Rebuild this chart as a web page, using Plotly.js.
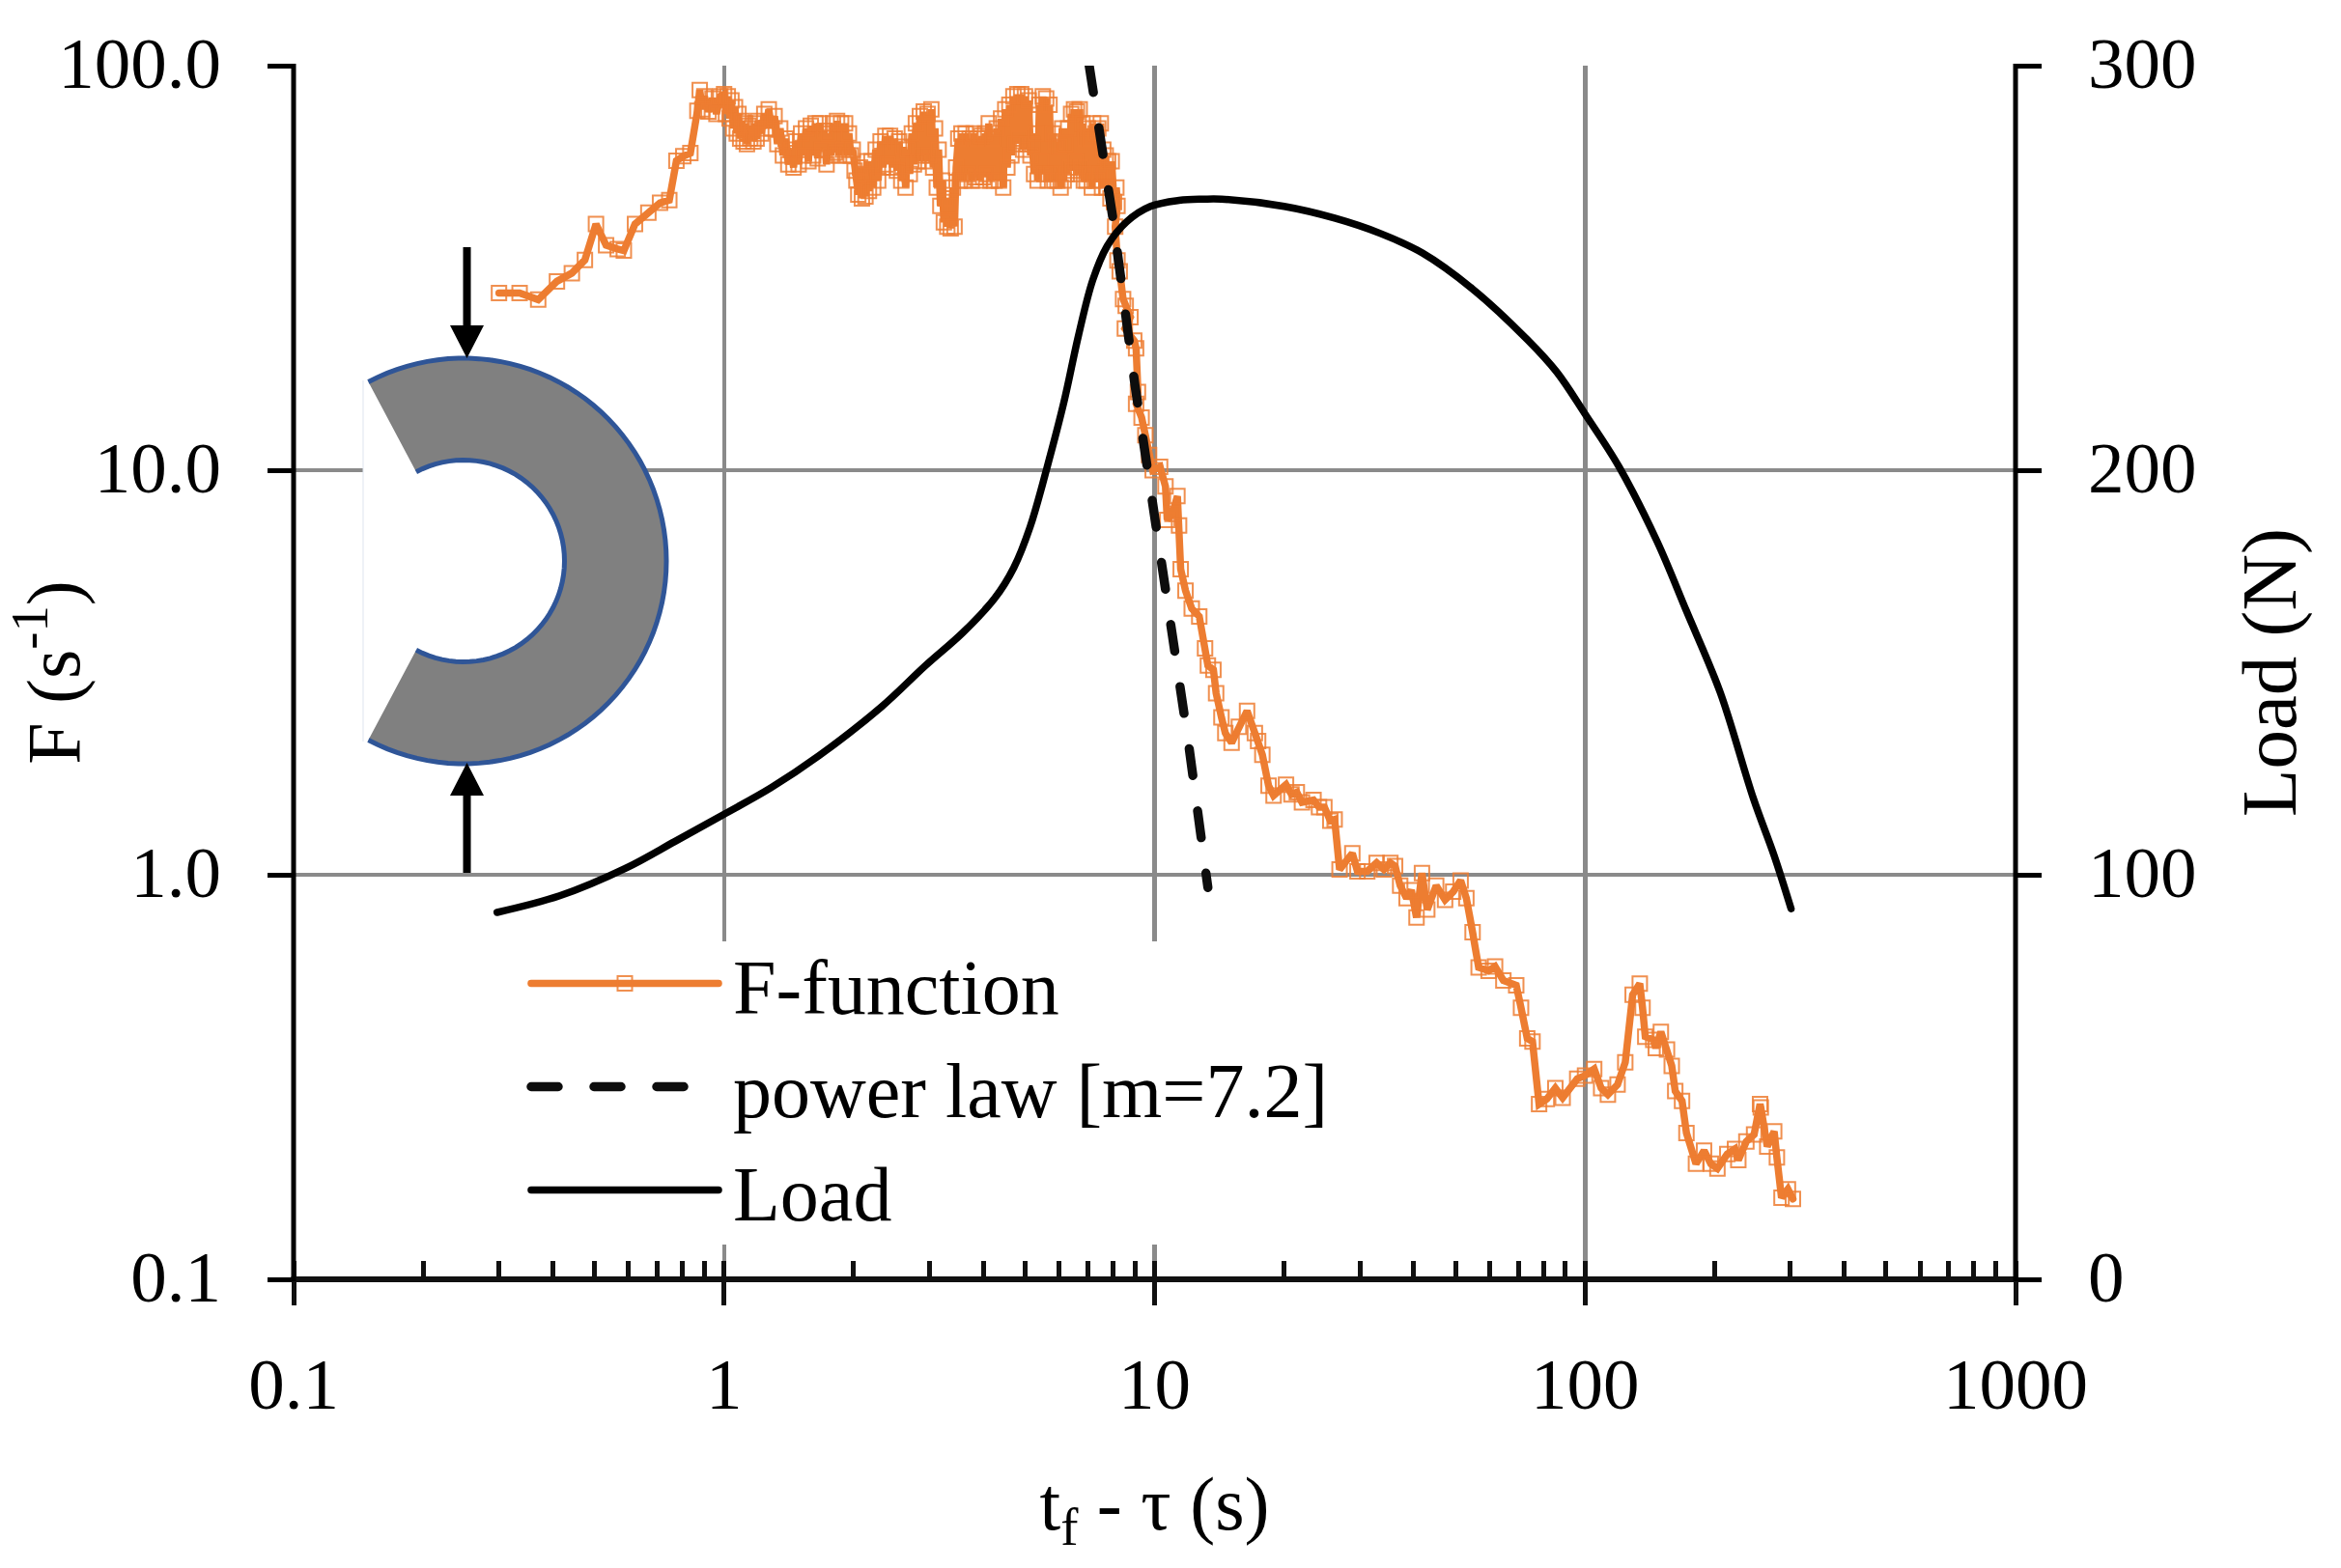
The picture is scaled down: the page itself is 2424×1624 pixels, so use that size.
<!DOCTYPE html>
<html>
<head>
<meta charset="utf-8">
<script src="https://cdn.plot.ly/plotly-3.0.1.min.js"></script>
<style>html,body{margin:0;padding:0;background:#fff}#chart{width:2424px;height:1624px}</style>
</head>
<body>
<div id="chart"></div>
<script>
const fPoints = [[0.30,27.4],[0.335,27.4],[0.37,26.4],[0.409,29.3],[0.443,30.7],[0.475,33.1],[0.504,40.6],[0.532,36],[0.566,35.2],[0.585,34.9],[0.621,40.6],[0.667,43.3],[0.71,45.8],[0.746,46.5],[0.775,58.2],[0.804,59.7],[0.835,60.8],[0.867,77.3],[0.878,87],
[0.89,78],[0.90,84],[0.92,77],[0.94,83],[0.96,76],[0.98,84],
[1.00,85],[1.01,76],[1.02,84],[1.03,74],[1.04,82],[1.05,70],[1.06,79],[1.07,68],[1.08,76],[1.09,66],[1.10,73],[1.11,65],[1.12,72],[1.13,64],[1.14,71],[1.15,66],[1.16,70],[1.17,65],[1.18,72],[1.19,66],[1.20,73],[1.22,68],[1.24,76],[1.25,70],[1.27,78],[1.29,70],[1.31,75],[1.33,64],[1.35,70],[1.37,60],[1.39,66],[1.41,57],[1.43,62],[1.45,56],[1.47,65],[1.49,57],[1.51,68],[1.53,60],[1.55,70],[1.57,58],[1.59,71],[1.61,60],[1.63,72],[1.65,59],[1.67,72],[1.69,62],[1.71,69],[1.73,57],[1.75,68],[1.77,60],[1.79,72],[1.81,61],[1.83,73],[1.85,60],[1.87,72],[1.89,62],[1.91,72],[1.93,60],[1.95,68],[1.97,60],[1.99,62],
[2.01,55],[2.03,52],[2.05,48],[2.07,56],[2.09,47],[2.11,54],[2.13,47.5],[2.15,58],[2.17,49],[2.20,58],[2.22,50],[2.25,62],[2.28,52],[2.31,65],[2.34,56],[2.37,67],[2.40,57],[2.43,67],[2.46,56],[2.49,66],[2.52,55],[2.55,65],[2.58,52],[2.61,63],[2.64,50],[2.67,62],[2.70,54],[2.73,68],[2.76,57],[2.79,72],[2.82,58],[2.85,75],[2.88,60],[2.91,77],[2.94,58],[2.97,76],
[3.0,60],[3.03,78],[3.06,56],[3.09,70],[3.12,50],[3.15,62],[3.18,45],[3.21,52],[3.24,41],[3.27,47],[3.30,40],[3.33,45],[3.36,39.6],[3.40,50],[3.43,40],[3.46,56],[3.50,66],[3.53,52],[3.56,68],[3.60,52],[3.64,68],[3.68,54],[3.72,66],[3.76,52],[3.80,68],[3.84,53],[3.88,66],[3.92,52],[3.96,67],
[4.0,53],[4.04,68],[4.08,54],[4.12,72],[4.16,52],[4.20,66],[4.25,52],[4.30,70],[4.35,52],[4.40,74],[4.45,50],[4.50,78],[4.55,56],[4.60,80],[4.65,60],[4.70,84],[4.75,64],[4.80,85],[4.85,66],[4.90,85],[4.95,62],
[5.0,84],[5.05,64],[5.10,82],[5.15,60],[5.20,64],[5.25,54],[5.30,68],[5.35,52],[5.40,80],[5.45,58],[5.50,84],[5.55,54],[5.60,83],[5.65,52],[5.70,80],[5.75,54],[5.80,68],[5.85,52],[5.90,65],[5.95,52],
[6.0,63],[6.05,50],[6.1,70],[6.15,52],[6.2,64],[6.25,54],[6.3,70],[6.35,56],[6.4,76],[6.45,55],[6.5,78],[6.55,58],[6.6,77],[6.65,54],[6.7,78],[6.75,56],[6.8,72],[6.85,52],[6.9,66],[6.95,52],
[7.0,70],[7.05,54],[7.1,66],[7.15,50],[7.2,72],[7.25,52],[7.3,68],[7.35,52],[7.4,70],[7.45,54],[7.5,72],[7.55,50],[7.6,62],[7.65,54],[7.7,60],[7.75,50],[7.8,58],[7.9,47],[7.95,58],[8.05,46],[8.15,50],[8.2,45],
[8.1,40],[8.2,33],[8.3,31],[8.45,26.5],[8.57,25.5],[8.79,23.9],[8.53,22.4],[8.97,20.9],[9.06,20],[9.15,15.6],[9.06,14.6],[9.33,13.5],[9.52,12.2],[9.71,10.9],[9.9,10],[10.3,10.2],[10.6,9.12],[10.7,7.54],[11.0,7.8],[11.3,8.63],[11.4,7.3],[11.5,5.69],[11.8,5.04],[12.2,4.55],[12.7,4.35],[13.1,3.63],[13.3,3.29],[13.7,3.21],[13.9,2.81],[14.3,2.45],[14.6,2.24],[15.1,2.12],[15.7,2.32],[16.4,2.54],[17.1,2.24],[17.4,2.14],[17.8,1.98],[18.4,1.66],[18.9,1.57],[20.2,1.67],[20.8,1.58],[21.4,1.60],[22.0,1.51],[23.4,1.53],[24.1,1.47],[24.8,1.47],[25.6,1.36],[26.2,1.37],[26.9,1.03],[28.8,1.13],[29.6,1.02],[31.2,1.02],[32.8,1.07],[34.1,1.03],[35.3,1.07],[36.2,1.05],[37.2,0.94],[38.5,0.875],[39.5,0.916],[40.6,0.784],[41.8,1.01],[43,0.82],[45.1,0.94],[47.3,0.867],[49.4,0.908],[51.4,0.968],[53,0.875],[54.8,0.721],[56.6,0.59],[59.7,0.579],[61.8,0.593],[64.6,0.548],[69.2,0.533],[71,0.469],[73.4,0.394],[75.5,0.387],[78.2,0.271],[81.5,0.279],[85.3,0.297],[88.7,0.281],[95.9,0.313],[100,0.319],[105,0.331],[109,0.297],[113,0.286],[119,0.303],[124,0.344],[129,0.505],[134,0.538],[136,0.469],[138,0.398],[144,0.391],[146,0.373],[150,0.409],[155,0.37],[159,0.337],[162,0.292],[168,0.276],[172,0.23],[181,0.193],[189,0.208],[196,0.193],[203,0.188],[214,0.204],[223,0.21],[227,0.197],[237,0.219],[247,0.228],[255,0.271],[256,0.266],[265,0.213],[275,0.232],[279,0.2],[286,0.159],[296,0.167],[304,0.158]];
const fTime = fPoints.map(p=>p[0]);
const fValue = fPoints.map(p=>p[1]);

const lawTime = [7.05,8,9,10,11,12,13.3];
const lawValue = [100,42,16.3,7.8,3.9,2.1,0.93];

const loadTime = [0.297,0.415,0.593,0.768,0.994,1.285,1.66,2.32,2.93,3.59,4.25,4.71,5.14,5.63,6.16,6.66,7.19,7.77,8.61,9.78,11.4,13,14.3,20,26.2,33.5,41.9,54.8,73.4,85.9,100,120,147,172,206,246,275,301];
const loadValue = [90.7,94.8,101.7,108.2,114.8,121.5,129.4,141.5,151.6,159.9,168.3,175.9,186,200.8,216.9,233.4,247.1,255.5,261.4,265.2,266.7,267,267,265.2,262.3,258.5,253.7,244.8,232.3,224.3,213.9,200.8,182.4,165.2,145.1,118.9,104.7,91.6];

const xTickVals = [0.1,1,10,100,1000];
const xTickText = ['0.1','1','10','100','1000'];
const xMinorVals = [0.1,0.2,0.3,0.4,0.5,0.6,0.7,0.8,0.9,1,2,3,4,5,6,7,8,9,10,20,30,40,50,60,70,80,90,100,200,300,400,500,600,700,800,900,1000];
const yTickVals = [0.1,1,10,100];
const yTickText = ['0.1','1.0','10.0','100.0'];
const loadTickVals = [0,100,200,300];

const W=2424,H=1624,L=304,R=2087,T=68,B=1325;
const fx=x=>(x-L)/(R-L), fy=y=>(B-y)/(B-T);
const SERIF='"Liberation Serif", serif';
function poly(pts,close){return pts.map((p,i)=>(i?'L':'M')+fx(p[0]).toFixed(5)+','+fy(p[1]).toFixed(5)).join(' ')+(close?' Z':'');}
function arc(cx,cy,r,a0,a1,n){const o=[];for(let i=0;i<=n;i++){const t=(a0+(a1-a0)*i/n)*Math.PI/180;o.push([cx+r*Math.cos(t),cy+r*Math.sin(t)]);}return o;}
function sh(path,fill,lineColor,lineW){return {type:'path',xref:'paper',yref:'paper',layer:'above',path,fillcolor:fill||'rgba(0,0,0,0)',line:{color:lineColor||'rgba(0,0,0,0)',width:lineW||0}};}
const cx=480,cy=581,ro=210,ri=104.5;
const outer=arc(cx,cy,ro,-118,118,80), inner=arc(cx,cy,ri,-118,118,60);
const shapes=[
 sh(poly([[376,394],[480,394],[480,768],[376,768]],true),'#ffffff'),
 sh(poly(arc(cx,cy,ri,0,360,80),true),'#ffffff'),
 sh(poly([[376,394],[376,768]],false),null,'#dfe4ee',1),
 sh(poly(outer.concat(inner.slice().reverse()),true),'#808080'),
 sh(poly(outer,false),null,'#2F5597',5),
 sh(poly(inner,false),null,'#2F5597',5),
 sh(poly([[479.5,256],[487.5,256],[487.5,337],[501,337],[483.5,371],[466,337],[479.5,337]],true),'#000000'),
 sh(poly([[479.5,904],[487.5,904],[487.5,824],[501,824],[483.5,790],[466,824],[479.5,824]],true),'#000000'),
 sh(poly([[545,975],[1400,975],[1400,1289],[545,1289]],true),'#ffffff'),
 sh(poly([[L-2.5,B],[R+2.5,B]],false),null,'#111111',6),
 sh(poly([[L,T-2],[L,B+2]],false),null,'#000000',5),
 sh(poly([[R,T-2],[R,B+2]],false),null,'#000000',5)
];

const traces=[
 {x:fTime,y:fValue,name:'F-function',mode:'lines+markers',legendgroup:'a',
  line:{color:'#ED7D31',width:7.5},
  marker:{symbol:'square-open',size:15,color:'rgba(237,125,49,0.85)',line:{width:2,color:'rgba(237,125,49,0.85)'}}},
 {x:lawTime,y:lawValue,name:'power law [m=7.2]',mode:'lines',legendgroup:'b',
  line:{color:'#0D0D0D',width:9.5,dash:'28px,37px'}},
 {x:loadTime,y:loadValue,name:'Load',mode:'lines',yaxis:'y2',legendgroup:'c',
  line:{color:'#000000',width:7.5,shape:'spline',smoothing:1}}
];

const layout={
 width:W,height:H,paper_bgcolor:'#fff',plot_bgcolor:'#fff',
 margin:{l:L,r:W-R,t:T,b:H-B,pad:0},
 font:{family:SERIF,color:'#000',size:75},
 showlegend:true,
 legend:{x:fx(545),y:fy(960),xanchor:'left',yanchor:'top',bgcolor:'rgba(0,0,0,0)',borderwidth:0,
  itemwidth:204,tracegroupgap:0,font:{family:SERIF,size:80,color:'#000'},itemclick:false,itemdoubleclick:false},
 xaxis:{type:'log',range:[-1,3],tickmode:'array',tickvals:xTickVals,ticktext:xTickText,
  ticks:'outside',ticklen:26,tickwidth:5,tickcolor:'#111',ticklabelstandoff:17,
  showline:false,showgrid:true,gridcolor:'#8a8a8a',gridwidth:4.5,zeroline:false,
  tickfont:{family:SERIF,size:75,color:'#000'},
  minor:{tickmode:'array',tickvals:xMinorVals,ticks:'inside',ticklen:19,tickwidth:5,tickcolor:'#111',showgrid:false},
  title:{text:'t<sub>f</sub> - τ (s)',font:{family:SERIF,size:78,color:'#000'},standoff:55}},
 yaxis:{type:'log',range:[-1,2],tickmode:'array',tickvals:yTickVals,ticktext:yTickText,
  ticks:'outside',ticklen:26,tickwidth:5,tickcolor:'#000',ticklabelstandoff:33,
  showline:false,showgrid:true,gridcolor:'#8a8a8a',gridwidth:4.5,zeroline:false,
  tickfont:{family:SERIF,size:75,color:'#000'},
  title:{text:'F (s<sup>-1</sup>)',font:{family:SERIF,size:78,color:'#000'},standoff:16}},
 yaxis2:{overlaying:'y',side:'right',range:[0,300],tickmode:'array',tickvals:loadTickVals,
  ticks:'outside',ticklen:26,tickwidth:5,tickcolor:'#000',ticklabelstandoff:33,
  showline:false,showgrid:false,zeroline:false,
  tickfont:{family:SERIF,size:75,color:'#000'},
  title:{text:'Load (N)',font:{family:SERIF,size:81,color:'#000'},standoff:46}},
 shapes
};
Plotly.newPlot('chart',traces,layout,{displayModeBar:false,staticPlot:true}).then(()=>{
 document.querySelectorAll('.js-line').forEach(e=>e.style.strokeLinecap='round');
 document.querySelectorAll('.legendlines path').forEach((e,i)=>{
  e.style.strokeLinecap='round';
  e.setAttribute('d',i===1?'M5,0h167':'M5,0h194');
 });
 document.querySelectorAll('.legendpoints path').forEach(e=>{
  const m=/translate\(([-\d.]+),([-\d.]+)\)/.exec(e.getAttribute('transform')||'');
  if(m)e.setAttribute('transform','translate('+(parseFloat(m[1])-5)+','+m[2]+')');
 });
 document.querySelectorAll('.ytick text, .y2tick text').forEach(e=>{
  e.setAttribute('y',parseFloat(e.getAttribute('y')||0)-3);
 });
});
</script>
</body>
</html>
